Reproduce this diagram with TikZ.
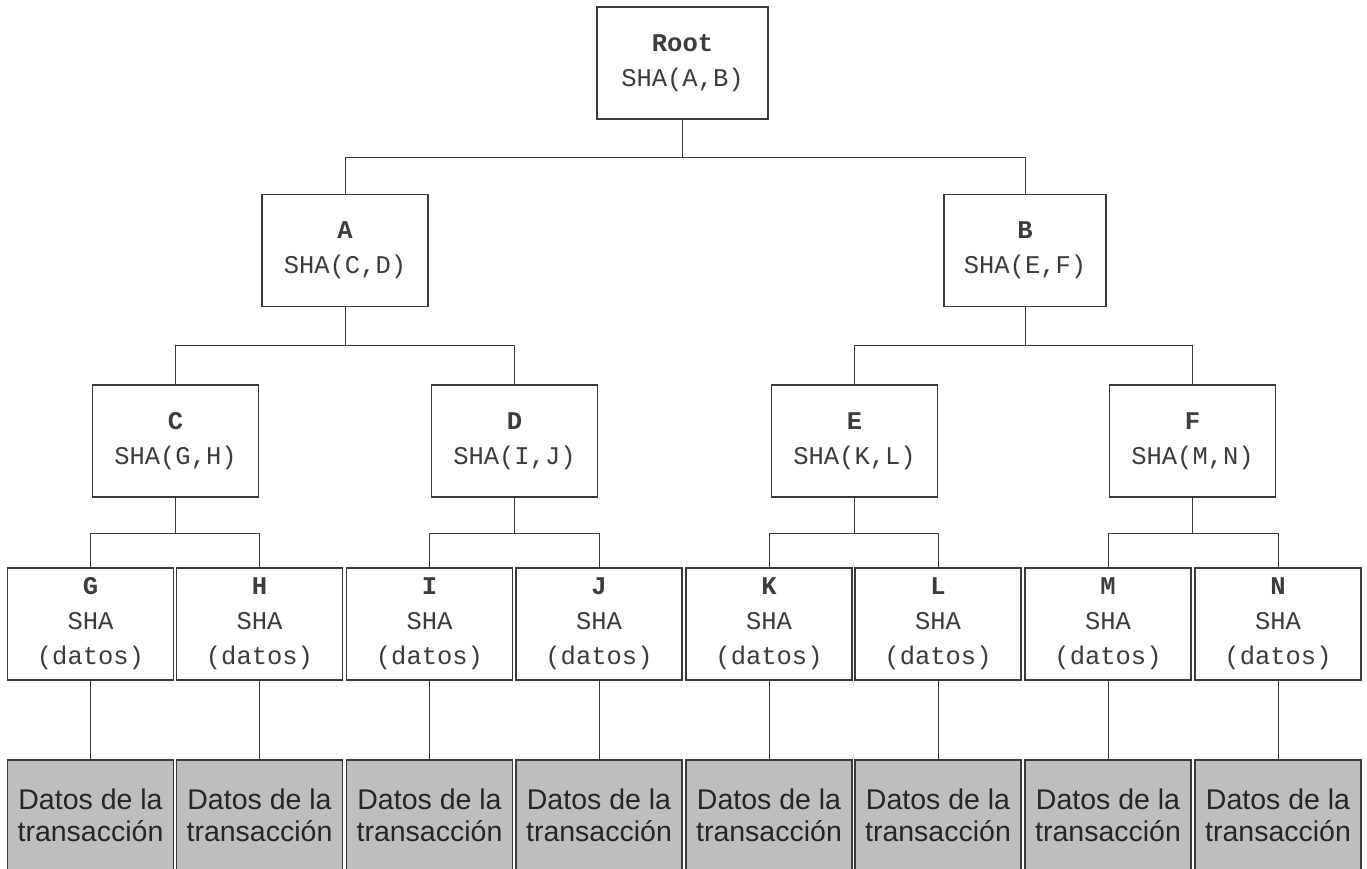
\documentclass[tikz,border=0pt]{standalone}
\usepackage{fontspec}
\setmainfont{Liberation Sans}
\setsansfont{Liberation Sans}
\setmonofont{Liberation Mono}
\usetikzlibrary{positioning}

\definecolor{linegray}{HTML}{3A3A3A}
\definecolor{textgray}{HTML}{3C3C3C}
\definecolor{datagray}{HTML}{BDBEC0}

\tikzset{
  hashbox/.style={draw=linegray, fill=white, line width=1.2pt, minimum width=166pt, minimum height=112pt,
    inner sep=0pt, align=center, text=textgray, font=\ttfamily\fontsize{25.5}{35}\selectfont},
  databox/.style={draw=linegray, fill=datagray, line width=1.2pt, minimum width=166pt, minimum height=110pt,
    inner sep=0pt, align=center, text=black!85, font=\sffamily\fontsize{28.5}{32}\selectfont},
  link/.style={draw=linegray, line width=1pt}
}

\begin{document}
\begin{tikzpicture}[x=1pt, y=-1pt]
        \useasboundingbox (0,0) rectangle (1367,868);
        % hash tree
        \node[hashbox, minimum width=171pt] (root) at (682.5,63) {\textbf{Root}\\SHA(A,B)};
        \node[hashbox] (a) at (345,250.5) {\textbf{A}\\SHA(C,D)};
        \node[hashbox, minimum width=162pt] (b) at (1025,250.5) {\textbf{B}\\SHA(E,F)};
        \node[hashbox] (c) at (175.5,441) {\textbf{C}\\SHA(G,H)};
        \node[hashbox] (d) at (514.5,441) {\textbf{D}\\SHA(I,J)};
        \node[hashbox] (e) at (854.5,441) {\textbf{E}\\SHA(K,L)};
        \node[hashbox] (f) at (1192.5,441) {\textbf{F}\\SHA(M,N)};
        \node[hashbox] (g) at (90.5,624) {\textbf{G}\\SHA\\(datos)};
        \node[hashbox] (h) at (259.5,624) {\textbf{H}\\SHA\\(datos)};
        \node[hashbox] (i) at (429.5,624) {\textbf{I}\\SHA\\(datos)};
        \node[hashbox] (j) at (599,624) {\textbf{J}\\SHA\\(datos)};
        \node[hashbox] (k) at (769,624) {\textbf{K}\\SHA\\(datos)};
        \node[hashbox] (l) at (938,624) {\textbf{L}\\SHA\\(datos)};
        \node[hashbox] (m) at (1108,624) {\textbf{M}\\SHA\\(datos)};
        \node[hashbox] (n) at (1278,624) {\textbf{N}\\SHA\\(datos)};
        % transaction data
        \node[databox] (gdata) at (90.5,815) {Datos de la\\transacción};
        \node[databox] (hdata) at (259.5,815) {Datos de la\\transacción};
        \node[databox] (idata) at (429.5,815) {Datos de la\\transacción};
        \node[databox] (jdata) at (599,815) {Datos de la\\transacción};
        \node[databox] (kdata) at (769,815) {Datos de la\\transacción};
        \node[databox] (ldata) at (938,815) {Datos de la\\transacción};
        \node[databox] (mdata) at (1108,815) {Datos de la\\transacción};
        \node[databox] (ndata) at (1278,815) {Datos de la\\transacción};
        % branches
        \draw[link] (root.south) -- ++(0,38) coordinate (jroot);
        \draw[link] (a.north) |- (jroot) -| (b.north);
        \draw[link] (a.south) -- ++(0,38.5) coordinate (ja);
        \draw[link] (c.north) |- (ja) -| (d.north);
        \draw[link] (b.south) -- ++(0,38.5) coordinate (jb);
        \draw[link] (e.north) |- (jb) -| (f.north);
        \draw[link] (c.south) -- ++(0,36) coordinate (jc);
        \draw[link] (g.north) |- (jc) -| (h.north);
        \draw[link] (d.south) -- ++(0,36) coordinate (jd);
        \draw[link] (i.north) |- (jd) -| (j.north);
        \draw[link] (e.south) -- ++(0,36) coordinate (je);
        \draw[link] (k.north) |- (je) -| (l.north);
        \draw[link] (f.south) -- ++(0,36) coordinate (jf);
        \draw[link] (m.north) |- (jf) -| (n.north);
        \draw[link] (g.south) -- (gdata.north);
        \draw[link] (h.south) -- (hdata.north);
        \draw[link] (i.south) -- (idata.north);
        \draw[link] (j.south) -- (jdata.north);
        \draw[link] (k.south) -- (kdata.north);
        \draw[link] (l.south) -- (ldata.north);
        \draw[link] (m.south) -- (mdata.north);
        \draw[link] (n.south) -- (ndata.north);
    \end{tikzpicture}
\end{document}
